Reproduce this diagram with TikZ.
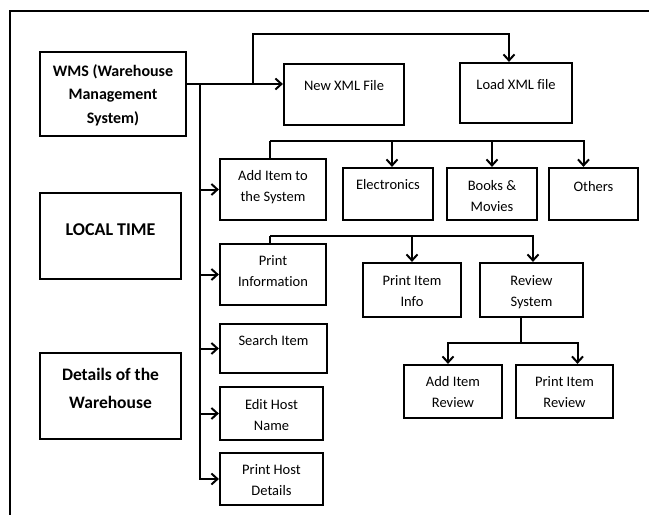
\documentclass[tikz,border=0pt]{standalone}
\usepackage{fontspec}
\setmainfont{Carlito}[Ligatures=NoCommon]
\usetikzlibrary{arrows.meta}

\begin{document}
\begin{tikzpicture}[x=1pt, y=-1pt, line width=2pt,
        >={Straight Barb[length=6pt,width=11pt]},
        block/.style={draw, line width=2.2pt, align=center, inner sep=0pt, anchor=base,
            font=\fontsize{14.5}{21.5}\selectfont},
        title/.style={block, font=\bfseries\fontsize{17.5}{28}\selectfont}]
        \useasboundingbox (0,0) rectangle (649,515);
        \draw (649,11) -| (10,515);

        % left column
        \node[title, font=\bfseries\fontsize{16}{23.5}\selectfont, minimum width=146pt, text height=71pt, text depth=13pt] at (113,123) (wms) {WMS (Warehouse\\Management\\System)};
        \node[title, font=\bfseries\fontsize{18}{28}\selectfont, minimum width=141pt, text height=42pt, text depth=44pt] at (110.5,235) (localtime) {LOCAL TIME};
        \node[title, minimum width=141pt, text height=55pt, text depth=31pt] at (110.5,408) (details) {Details of the\\Warehouse};

        % menu
        \node[block, minimum width=120pt, text height=26.5pt, text depth=34.5pt] at (344,90.5) (newxml) {New XML File};
        \node[block, minimum width=112pt, text height=26.5pt, text depth=33.5pt] at (516,89.5) (loadxml) {Load XML file};
        \node[block, minimum width=106pt, text height=42.5pt, text depth=18.5pt] at (273,201.5) (additem) {Add Item to\\the System};
        \node[block, minimum width=106pt, text height=42.5pt, text depth=18.5pt] at (273,286.5) (printinfo) {Print\\Information};
        \node[block, minimum width=107pt, text height=21.5pt, text depth=27.5pt] at (273.5,345.5) (search) {Search Item};
        \node[block, minimum width=103pt, text height=43.5pt, text depth=9.5pt] at (271.5,430.5) (edithost) {Edit Host\\Name};
        \node[block, minimum width=103pt, text height=42.5pt, text depth=9.5pt] at (271.5,495.5) (printhost) {Print Host\\Details};

        % categories
        \node[block, minimum width=90pt, text height=21.5pt, text depth=30.5pt] at (388,189.5) (electronics) {Electronics};
        \node[block, minimum width=90pt, text height=43.5pt, text depth=8.5pt] at (492,211.5) (books) {Books \&\\Movies};
        \node[block, minimum width=89pt, text height=23.5pt, text depth=28.5pt] at (593.5,191.5) (others) {Others};

        % print options
        \node[block, minimum width=98pt, text height=43.5pt, text depth=10.5pt] at (412,306.5) (printiteminfo) {Print Item\\Info};
        \node[block, minimum width=103pt, text height=43.5pt, text depth=10.5pt] at (531.5,306.5) (reviewsys) {Review\\System};
        \node[block, minimum width=98pt, text height=42.5pt, text depth=10.5pt] at (453,407.5) (addreview) {Add Item\\Review};
        \node[block, minimum width=97pt, text height=42.5pt, text depth=10.5pt] at (564.5,407.5) (printreview) {Print Item\\Review};

        % trunk
        \coordinate (j0) at (200,84);
        \coordinate (j2) at (253,84);
        \coordinate (j3) at (253,34);
        \draw (wms.east |- j0) -- (j0);
        \draw[->] (j0) -- (newxml.west |- j0);
        \draw[->] (j2) -- (j3) -| ([xshift=-7pt]loadxml.north);
        \draw[->] (j0) |- (printhost.west);
        \draw[->] (j0 |- additem.west) -- (additem.west);
        \draw[->] (j0 |- printinfo.west) -- (printinfo.west);
        \draw[->] (j0 |- search.west) -- (search.west);
        \draw[->] (j0 |- edithost.west) -- (edithost.west);

        % item categories
        \coordinate (c0) at (270,141);
        \draw (additem.north -| c0) -- (c0);
        \draw[->] (c0) -| ([xshift=4pt]electronics.north);
        \draw[->] (c0) -| (books.north);
        \draw[->] (c0) -| ([xshift=-10pt]others.north);

        % print information
        \coordinate (p0) at (270,236);
        \draw (printinfo.north -| p0) -- (p0);
        \draw[->] (p0) -| (printiteminfo.north);
        \draw[->] (p0) -| ([xshift=1.5pt]reviewsys.north);

        % review system
        \coordinate (r0) at (521,343);
        \draw (reviewsys.south -| r0) -- (r0);
        \draw[->] (r0) -| ([xshift=-5pt]addreview.north);
        \draw[->] (r0) -| ([xshift=13pt]printreview.north);
    \end{tikzpicture}
\end{document}
